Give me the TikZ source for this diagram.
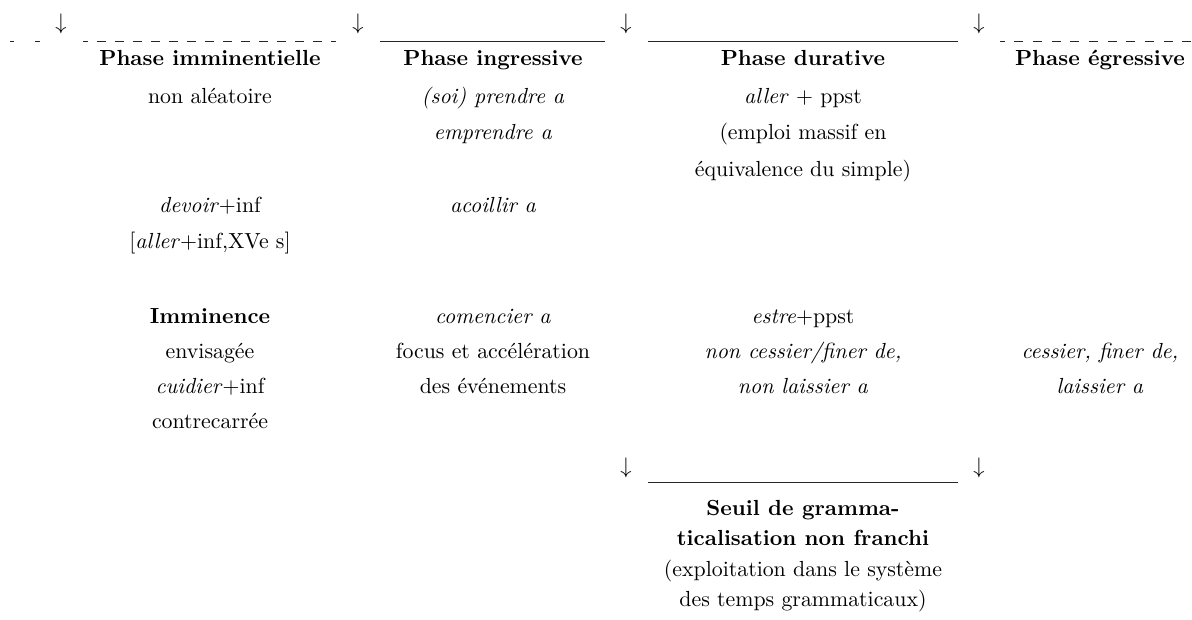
\documentclass[tikz,border=0pt]{standalone}
\usepackage{fontspec}
\begin{document}
\begin{tikzpicture}[x=0.4878pt,y=-0.4878pt,
  txt/.style={anchor=base,inner sep=0pt,font=\fontsize{10.65}{13}\selectfont},
  hd/.style={txt,font=\fontsize{10.65}{13}\selectfont\bfseries},
  arr/.style={inner sep=0pt,font=\fontsize{10.65}{13}\selectfont},
  rulesolid/.style={line width=0.45pt,draw=black!85},
  ruledash/.style={line width=0.45pt,draw=black!85,dash phase=2.195pt}]
\useasboundingbox (0,0) rectangle (1192,620);

% top arrows
\node[arr] (ta1) at (61,24) {$\downarrow$};
\node[arr] (ta2) at (358,24) {$\downarrow$};
\node[arr] (ta3) at (626,24) {$\downarrow$};
\node[arr] (ta4) at (979,24) {$\downarrow$};

% top rules
\coordinate (lA1) at (10,41);  \coordinate (lA2) at (40,41);
\coordinate (lB1) at (83,41);  \coordinate (lB2) at (336,41);
\coordinate (lC1) at (380,41); \coordinate (lC2) at (605,41);
\coordinate (lD1) at (648,41); \coordinate (lD2) at (958,41);
\coordinate (lE1) at (1000,41); \coordinate (lE2) at (1192,41);
\draw[ruledash,dash pattern=on 4.39pt off 10.24pt] (lA1) -- (lA2);
\draw[ruledash,dash pattern=on 4.39pt off 4.425pt] (lB1) -- (lB2);
\draw[rulesolid] (lC1) -- (lC2);
\draw[rulesolid] (lD1) -- (lD2);
\draw[ruledash,dash pattern=on 4.39pt off 4.73pt] (lE1) -- (lE2);

% column 1
\node[hd]  (c1h) at (210,66)  {Phase imminentielle};
\node[txt] (c1a) at (210,104) {non aléatoire};
\node[txt] (c1b) at (210,213) {\textit{devoir}+inf};
\node[txt] (c1c) at (210,249) {[\textit{aller}+inf,XVe s]};
\node[hd]  (c1d) at (210,324) {Imminence};
\node[txt] (c1e) at (210,359) {envisagée};
\node[txt] (c1f) at (210,394) {\textit{cuidier}+inf};
\node[txt] (c1g) at (210,429) {contrecarrée};

% column 2
\node[hd]  (c2h) at (493,66)  {Phase ingressive};
\node[txt] (c2a) at (493,104) {\textit{(soi) prendre a}};
\node[txt] (c2b) at (493,140) {\textit{emprendre a}};
\node[txt] (c2c) at (493,213) {\textit{acoillir a}};
\node[txt] (c2d) at (493,324) {\textit{comencier a}};
\node[txt] (c2e) at (493,359) {focus et accélération};
\node[txt] (c2f) at (493,394) {des événements};

% column 3
\node[hd]  (c3h) at (803,66)  {Phase durative};
\node[txt] (c3a) at (803,104) {\textit{aller} + ppst};
\node[txt] (c3b) at (803,140) {(emploi massif en};
\node[txt] (c3c) at (803,177) {équivalence du simple)};
\node[txt] (c3d) at (803,324) {\textit{estre}+ppst};
\node[txt] (c3e) at (803,359) {\textit{non cessier/finer de,}};
\node[txt] (c3f) at (803,394) {\textit{non laissier a}};

% column 4
\node[hd]  (c4h) at (1100,66)  {Phase égressive};
\node[txt] (c4a) at (1100,359) {\textit{cessier, finer de,}};
\node[txt] (c4b) at (1100,394) {\textit{laissier a}};

% bottom
\node[arr] (ba1) at (626,468) {$\downarrow$};
\node[arr] (ba2) at (979,468) {$\downarrow$};
\coordinate (lF1) at (648,482); \coordinate (lF2) at (958,482);
\draw[rulesolid] (lF1) -- (lF2);
\node[hd]  (s1) at (803,516) {Seuil de gramma-};
\node[hd]  (s2) at (803,546) {ticalisation non franchi};
\node[txt] (s3) at (803,576) {(exploitation dans le système};
\node[txt] (s4) at (803,606) {des temps grammaticaux)};
\end{tikzpicture}
\end{document}
